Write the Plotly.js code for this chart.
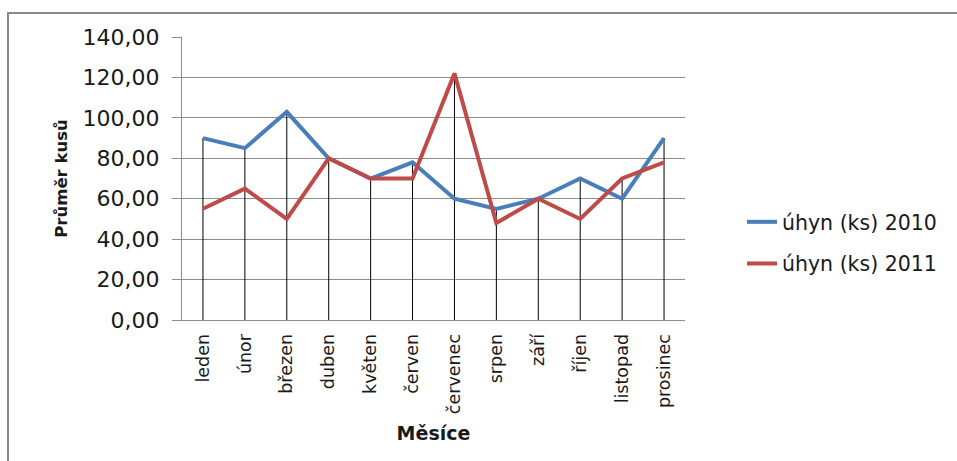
<!DOCTYPE html>
<html>
<head>
<meta charset="utf-8">
<script src="https://cdn.plot.ly/plotly-3.0.1.min.js"></script>
<style>
  html, body { margin: 0; padding: 0; background: #ffffff; }
  #chart { width: 957px; height: 461px; }
</style>
</head>
<body>
<div id="chart"></div>
<script>
// Měsíce (kategorie osy x)
const months = ["leden", "únor", "březen", "duben", "květen", "červen",
                "červenec", "srpen", "září", "říjen", "listopad", "prosinec"];

// Průměrný úhyn v kusech
const name2010 = "úhyn (ks) 2010";
const values2010 = [90, 85, 103, 80, 70, 78, 60, 55, 60, 70, 60, 90];

const name2011 = "úhyn (ks) 2011";
const values2011 = [55, 65, 50, 80, 70, 70, 122, 48, 60, 50, 70, 78];

// Popisky osy y
const yTickValues = [0, 20, 40, 60, 80, 100, 120, 140];

// Svislé spojnice od osy k vyšší z obou hodnot v každém měsíci
const dropX = [];
const dropY = [];
months.forEach((m, i) => {
  dropX.push(m, m, null);
  dropY.push(0, Math.max(values2010[i], values2011[i]), null);
});

const traces = [
  {
    x: dropX, y: dropY, type: "scatter", mode: "lines",
    line: { color: "#000000", width: 1 },
    showlegend: false, hoverinfo: "skip"
  },
  {
    x: months, y: values2010, name: name2010, type: "scatter", mode: "lines",
    line: { color: "#4A7EBB", width: 4 }, legendgroup: "a"
  },
  {
    x: months, y: values2011, name: name2011, type: "scatter", mode: "lines",
    line: { color: "#BE4B48", width: 4 }, legendgroup: "b"
  }
];

const W = 957, H = 461;
const L = 182, R = 685, T = 37, B = 320;
const px2x = (px) => (px - L) / (R - L);
const px2y = (py) => (B - py) / (B - T);

const layout = {
  width: W, height: H,
  margin: { l: L, r: W - R, t: T, b: H - B, pad: 0 },
  paper_bgcolor: "#ffffff",
  plot_bgcolor: "#ffffff",
  separators: ", ",
  font: { family: "DejaVu Sans", color: "#1a1a1a" },
  xaxis: {
    type: "category",
    range: [-0.5, months.length - 0.5],
    showgrid: false,
    zeroline: false,
    showline: true, linecolor: "#8c8c8c", linewidth: 1,
    ticks: "",
    tickangle: -90,
    ticklabelstandoff: 6,
    tickfont: { family: "DejaVu Sans", size: 17.5, color: "#1a1a1a" },
    title: { text: "<b>Měsíce</b>", font: { family: "DejaVu Sans", size: 19, color: "#1a1a1a" }, standoff: 13 }
  },
  yaxis: {
    range: [0, 140],
    tickvals: yTickValues,
    tickformat: ".2f",
    showgrid: true, gridcolor: "#8c8c8c", gridwidth: 1,
    zeroline: false,
    showline: true, linecolor: "#8c8c8c", linewidth: 1,
    ticks: "outside", ticklen: 9, tickcolor: "#8c8c8c",
    ticklabelstandoff: 8,
    tickfont: { family: "DejaVu Sans", size: 22, color: "#1a1a1a" },
    title: { text: "<b>Průměr kusů</b>", font: { family: "DejaVu Sans", size: 16.5, color: "#1a1a1a" }, standoff: 10 }
  },
  legend: {
    x: px2x(742), xanchor: "left",
    y: px2y(202), yanchor: "top",
    bgcolor: "rgba(0,0,0,0)",
    borderwidth: 0,
    traceorder: "grouped",
    tracegroupgap: 12,
    font: { family: "DejaVu Sans", size: 20.5, color: "#1a1a1a" }
  },
  shapes: [
    {
      type: "rect", xref: "paper", yref: "paper",
      x0: px2x(8), x1: px2x(990), y0: px2y(500), y1: px2y(13),
      line: { color: "#888888", width: 2 }, fillcolor: "rgba(0,0,0,0)",
      layer: "above"
    }
  ]
};

Plotly.newPlot("chart", traces, layout, { displayModeBar: false, staticPlot: true });
</script>
</body>
</html>
